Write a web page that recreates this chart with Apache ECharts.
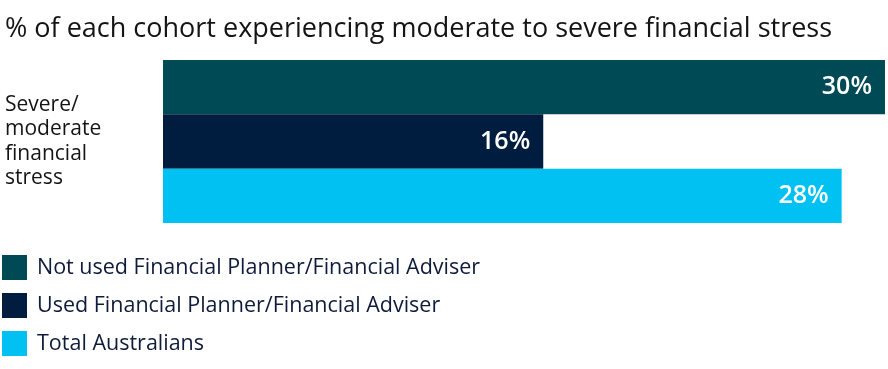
<!DOCTYPE html>
<html>
<head>
<meta charset="utf-8">
<script src="https://cdn.jsdelivr.net/npm/echarts@6/dist/echarts.min.js"></script>
<style>html,body{margin:0;padding:0;background:#fff}#c{width:888px;height:369px}</style>
</head>
<body>
<div id="c"></div>
<script>
const titleText = '% of each cohort experiencing moderate to severe financial stress';
const categories = ['Severe/\nmoderate\nfinancial\nstress'];
const seriesNames = ['Not used Financial Planner/Financial Adviser', 'Used Financial Planner/Financial Adviser', 'Total Australians'];
const notUsed = [30];
const used = [15.8];
const total = [28.2];
const colors = ['#004A56', '#001D40', '#00C1F1'];

const FONT = '"Open Sans", "Noto Sans", sans-serif';
const chart = echarts.init(document.getElementById('c'));
const values = [notUsed, used, total];
chart.setOption({
  animation: false,
  title: {
    text: titleText, left: 3, top: 11, padding: [5, 2, 5, 2],
    textStyle: { fontFamily: FONT, fontSize: 27, fontWeight: 500, color: '#141414' }
  },
  legend: {
    orient: 'vertical', left: 2, top: 255, itemWidth: 25, itemHeight: 25, itemGap: 13, padding: 0,
    icon: 'rect', selectedMode: false,
    textStyle: { fontFamily: FONT, fontSize: 21.5, fontWeight: 500, color: '#0F1B3A', padding: [0, 0, 0, 5] },
    data: seriesNames
  },
  grid: { left: 163, right: 3, top: 60, bottom: 146, containLabel: false },
  xAxis: { type: 'value', min: 0, max: 30, show: false },
  yAxis: {
    type: 'category', data: categories, inverse: true,
    axisLine: { show: false }, axisTick: { show: false },
    axisLabel: { margin: 158, align: 'left', fontFamily: FONT, fontSize: 21, fontWeight: 500, lineHeight: 24.5, color: '#141414' }
  },
  series: values.map((v, i) => ({
    name: seriesNames[i], type: 'bar', data: v, barWidth: 54.4, barGap: '0%', barCategoryGap: '0%',
    itemStyle: { color: colors[i] },
    label: { show: true, position: 'insideRight', distance: 13, color: '#fff',
      formatter: p => Math.round(p.value) + '%',
      fontFamily: FONT, fontSize: 25, fontWeight: 600 }
  }))
});
</script>
</body>
</html>
